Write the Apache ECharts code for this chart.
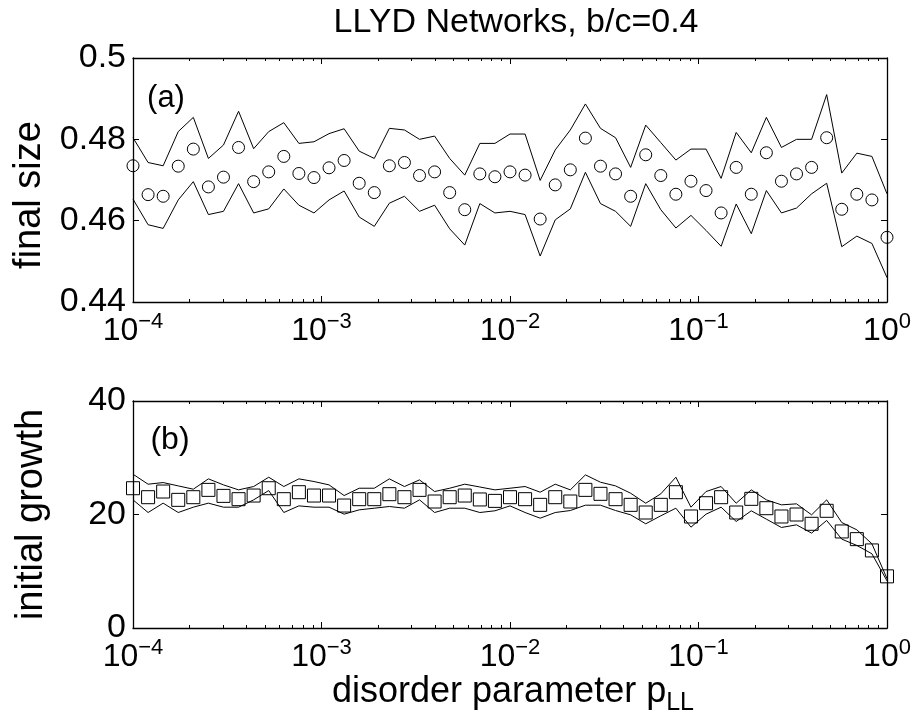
<!DOCTYPE html>
<html>
<head>
<meta charset="utf-8">
<script src="https://cdn.jsdelivr.net/npm/echarts@6/dist/echarts.min.js"></script>
<style>
html,body{margin:0;padding:0;background:#fff;}
#chart{width:919px;height:725px;}
</style>
</head>
<body>
<div id="chart"></div>
<script>
// ---- data ----
var titleText = 'LLYD Networks, b/c=0.4';
var disorderP = [
  0.0001, 0.00012023, 0.00014454, 0.00017378, 0.00020893, 0.00025119, 0.00030200, 0.00036308, 0.00043652, 0.00052481,
  0.00063096, 0.00075858, 0.00091201, 0.0010965, 0.0013183, 0.0015849, 0.0019055, 0.0022909, 0.0027542, 0.0033113,
  0.0039811, 0.0047863, 0.0057544, 0.0069183, 0.0083176,
  0.01, 0.012023, 0.014454, 0.017378, 0.020893, 0.025119, 0.030200, 0.036308, 0.043652, 0.052481,
  0.063096, 0.075858, 0.091201, 0.10965, 0.13183, 0.15849, 0.19055, 0.22909, 0.27542, 0.33113,
  0.39811, 0.47863, 0.57544, 0.69183, 0.83176, 1.0
];
var finalSizeMean = [
  0.4735, 0.4664, 0.4660, 0.4734, 0.4776, 0.4683, 0.4707, 0.4780, 0.4696, 0.4720,
  0.4758, 0.4716, 0.4706, 0.4730, 0.4748, 0.4692, 0.4669, 0.4735, 0.4743, 0.4711,
  0.4720, 0.4669, 0.4627, 0.4715, 0.4708,
  0.4720, 0.4712, 0.4604, 0.4688, 0.4725, 0.4803, 0.4734, 0.4715, 0.4660, 0.4762,
  0.4711, 0.4665, 0.4697, 0.4674, 0.4619, 0.4731, 0.4665, 0.4767, 0.4697, 0.4715,
  0.4731, 0.4804, 0.4628, 0.4665, 0.4651, 0.4559
];
var finalSizeUpper = [
  0.4804, 0.4743, 0.4735, 0.4819, 0.4854, 0.4753, 0.4786, 0.4869, 0.4777, 0.4819,
  0.4841, 0.4790, 0.4794, 0.4814, 0.4826, 0.4771, 0.4753, 0.4827, 0.4823, 0.4800,
  0.4808, 0.4753, 0.4712, 0.4790, 0.4790,
  0.4813, 0.4813, 0.4699, 0.4774, 0.4823, 0.4887, 0.4827, 0.4804, 0.4731, 0.4835,
  0.4792, 0.4749, 0.4776, 0.4776, 0.4704, 0.4817, 0.4767, 0.4854, 0.4780, 0.4800,
  0.4800, 0.4910, 0.4717, 0.4766, 0.4758, 0.4666
];
var finalSizeLower = [
  0.4653, 0.4590, 0.4581, 0.4651, 0.4696, 0.4615, 0.4623, 0.4691, 0.4619, 0.4629,
  0.4678, 0.4638, 0.4619, 0.4651, 0.4673, 0.4609, 0.4586, 0.4643, 0.4660, 0.4623,
  0.4638, 0.4580, 0.4540, 0.4642, 0.4619,
  0.4623, 0.4615, 0.4513, 0.4602, 0.4629, 0.4719, 0.4642, 0.4623, 0.4586, 0.4691,
  0.4627, 0.4582, 0.4613, 0.4576, 0.4537, 0.4641, 0.4568, 0.4674, 0.4619, 0.4631,
  0.4666, 0.4692, 0.4536, 0.4562, 0.4544, 0.4460
];
var growthMean = [
  24.63, 23.05, 24.05, 22.58, 23.05, 24.34, 23.28, 22.70, 23.34, 24.63,
  22.70, 23.93, 23.34, 23.34, 21.58, 22.70, 22.70, 23.58, 23.05, 24.34,
  22.29, 23.05, 23.34, 22.65, 22.40,
  23.05, 22.70, 21.70, 23.05, 22.29, 24.34, 23.64, 22.70, 21.70, 20.35,
  21.70, 23.93, 19.65, 21.99, 23.05, 20.35, 22.76, 21.11, 19.65, 20.00,
  18.36, 20.65, 17.01, 15.66, 13.67, 9.10
];
var growthUpper = [
  27.10, 25.34, 25.63, 25.04, 24.46, 26.28, 25.22, 24.34, 24.93, 26.57,
  24.93, 26.28, 25.81, 25.22, 23.34, 24.63, 24.63, 26.28, 24.93, 26.10,
  24.05, 24.63, 25.34, 24.85, 24.34,
  24.63, 24.93, 23.93, 25.34, 24.34, 26.98, 25.69, 25.04, 23.75, 21.99,
  23.64, 26.57, 21.29, 24.05, 24.93, 21.99, 24.34, 22.58, 21.70, 21.88,
  19.94, 22.58, 18.59, 17.30, 14.84, 8.70
];
var growthLower = [
  22.58, 20.35, 22.00, 20.35, 21.29, 22.00, 21.29, 21.29, 22.58, 24.22,
  20.35, 21.52, 21.29, 21.29, 20.06, 20.82, 21.11, 21.41, 21.11, 22.58,
  20.35, 21.11, 21.11, 20.35, 20.65,
  21.52, 20.35, 19.35, 20.35, 20.70, 21.64, 21.64, 20.70, 19.94, 18.36,
  19.77, 21.11, 17.77, 20.06, 21.29, 18.77, 20.65, 19.18, 17.71, 18.18,
  16.72, 18.95, 15.66, 14.55, 13.08, 8.30
];
var decadeExponents = [-4, -3, -2, -1, 0];
var minorMultipliers = [2, 3, 4, 5, 6, 7, 8, 9];
var topYTicks = {min: 0.44, max: 0.5, interval: 0.02};
var bottomYTicks = {min: 0, max: 40, interval: 20};
var panelLabels = ['(a)', '(b)'];
var yNames = ['final size', 'initial growth'];
var xNameMain = 'disorder parameter p';
var xNameSub = 'LL';

// ---- build ----
var FONT = '"Liberation Sans", Arial, Helvetica, sans-serif';
function pairs(xs, ys) { return xs.map(function (x, i) { return [x, ys[i]]; }); }
var minorTicks = [];
decadeExponents.slice(0, -1).forEach(function (d) {
  minorMultipliers.forEach(function (m) { minorTicks.push(d + Math.log10(m)); });
});
function expLabel(v) {
  var e = Math.round(Math.log10(v));
  var s = e < 0 ? '\u2212' + Math.abs(e) : String(e);
  return '{b|10}{s|' + s + '}';
}
var labelRich = {
  b: {fontSize: 32, fontFamily: FONT, color: '#000', lineHeight: 36, verticalAlign: 'bottom'},
  s: {fontSize: 22, fontFamily: FONT, color: '#000', lineHeight: 36, verticalAlign: 'top', padding: [0, 0, 14, 0]}
};
var lineC = {color: '#000', width: 1.3};
var tickC = {color: '#000', width: 1};
function xAxesFor(gi) {
  return [
    {type: 'log', gridIndex: gi, logBase: 10, min: 1e-4, max: 1, position: 'bottom',
     axisLine: {show: true, onZero: false, lineStyle: lineC},
     axisTick: {show: true, inside: true, length: 6, lineStyle: tickC},
     minorTick: {show: false}, splitLine: {show: false},
     axisLabel: {show: true, margin: 9, formatter: expLabel, rich: labelRich, showMinLabel: true, showMaxLabel: true}},
    {type: 'value', gridIndex: gi, min: -4, max: 0, position: 'bottom',
     axisLine: {show: false, onZero: false}, splitLine: {show: false}, axisLabel: {show: false},
     axisTick: {show: true, inside: true, length: 3, customValues: minorTicks, lineStyle: tickC}},
    {type: 'log', gridIndex: gi, logBase: 10, min: 1e-4, max: 1, position: 'top',
     axisLine: {show: true, onZero: false, lineStyle: lineC},
     axisTick: {show: true, inside: true, length: 6, lineStyle: tickC},
     minorTick: {show: false}, splitLine: {show: false}, axisLabel: {show: false}},
    {type: 'value', gridIndex: gi, min: -4, max: 0, position: 'top',
     axisLine: {show: false, onZero: false}, splitLine: {show: false}, axisLabel: {show: false},
     axisTick: {show: true, inside: true, length: 3, customValues: minorTicks, lineStyle: tickC}}
  ];
}
function yAxesFor(gi, t, name, namePad) {
  return [
    {type: 'value', gridIndex: gi, min: t.min, max: t.max, interval: t.interval, position: 'left',
     axisLine: {show: true, onZero: false, lineStyle: lineC},
     axisTick: {show: true, inside: true, length: 6, lineStyle: tickC},
     splitLine: {show: false},
     axisLabel: {show: true, margin: 7, fontSize: 34, fontFamily: FONT, color: '#000'},
     name: name, nameLocation: 'middle', nameGap: 82, nameRotate: 90,
     nameTextStyle: {fontSize: 38, fontFamily: FONT, color: '#000', padding: namePad}},
    {type: 'value', gridIndex: gi, min: t.min, max: t.max, interval: t.interval, position: 'right',
     axisLine: {show: true, onZero: false, lineStyle: lineC},
     axisTick: {show: true, inside: true, length: 6, lineStyle: tickC},
     splitLine: {show: false}, axisLabel: {show: false}}
  ];
}
function bandSeries(xi, yi, upper, lower, mean, sym, size) {
  return [
    {type: 'line', xAxisIndex: xi, yAxisIndex: yi, data: pairs(disorderP, upper), symbol: 'none',
     lineStyle: {color: '#000', width: 1}, z: 2},
    {type: 'line', xAxisIndex: xi, yAxisIndex: yi, data: pairs(disorderP, lower), symbol: 'none',
     lineStyle: {color: '#000', width: 1}, z: 2},
    {type: 'scatter', xAxisIndex: xi, yAxisIndex: yi, data: pairs(disorderP, mean), symbol: sym, symbolSize: size,
     itemStyle: {color: 'rgba(255,255,255,0)', borderColor: '#000', borderWidth: 1, opacity: 1}, z: 3}
  ];
}

var chart = echarts.init(document.getElementById('chart'), null, {renderer: 'canvas'});
chart.setOption({
  animation: false,
  backgroundColor: '#fff',
  grid: [
    {left: 133, top: 58, width: 754, height: 244},
    {left: 133, top: 401, width: 754, height: 227}
  ],
  xAxis: xAxesFor(0).concat(xAxesFor(1)),
  yAxis: yAxesFor(0, topYTicks, yNames[0], [0, 30, 0, 0]).concat(yAxesFor(1, bottomYTicks, yNames[1], 0)),
  series: bandSeries(0, 0, finalSizeUpper, finalSizeLower, finalSizeMean, 'circle', 12)
    .concat(bandSeries(4, 2, growthUpper, growthLower, growthMean, 'rect', 13)),
  graphic: [
    {type: 'text', x: 516, y: 23, style: {text: titleText, fontSize: 34, fontFamily: FONT, fill: '#000', align: 'center', verticalAlign: 'middle'}},
    {type: 'text', x: 166, y: 98, style: {text: panelLabels[0], fontSize: 31, fontFamily: FONT, fill: '#000', align: 'center', verticalAlign: 'middle'}},
    {type: 'text', x: 170, y: 440, style: {text: panelLabels[1], fontSize: 32, fontFamily: FONT, fill: '#000', align: 'center', verticalAlign: 'middle'}},
    {type: 'text', x: 513, y: 716, style: {
      text: '{m|' + xNameMain + '}{u|' + xNameSub + '}', align: 'center', verticalAlign: 'bottom',
      rich: {
        m: {fontSize: 36, fontFamily: FONT, fill: '#000', color: '#000', lineHeight: 42, verticalAlign: 'top'},
        u: {fontSize: 25, fontFamily: FONT, fill: '#000', color: '#000', lineHeight: 42, verticalAlign: 'bottom', padding: [20, 0, 0, 0]}
      }}}
  ]
});
</script>
</body>
</html>
